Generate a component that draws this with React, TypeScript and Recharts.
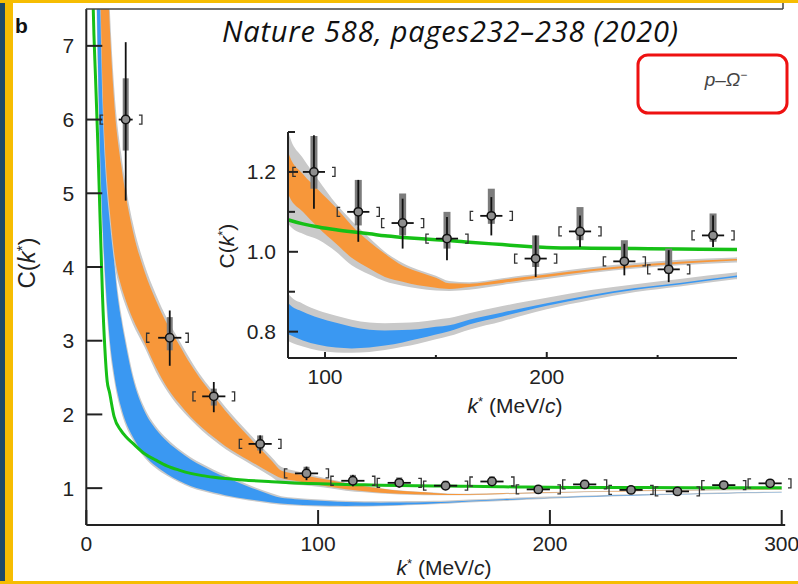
import React from 'react';
import { Area, ComposedChart, ErrorBar, Line, ReferenceLine, Scatter, XAxis, YAxis } from 'recharts';

const FONT = "'Liberation Sans', Arial, Helvetica, sans-serif";
const AXIS = '#222';

// model curves
const K = [2, 3, 4, 5, 6, 7, 8, 9, 10, 12, 15, 17, 20, 25, 30, 35, 40, 45, 50, 55, 60, 70, 80, 84, 90, 97, 105, 112, 120, 127, 135, 142, 150, 156, 165, 180, 190, 200, 220, 240, 260, 285, 300];
const greenC = [9.5, 7.5, 6.55, 5.65, 4.6, 3.6, 2.9, 2.45, 2.3, 1.97, 1.78, 1.7, 1.61, 1.47, 1.38, 1.3, 1.245, 1.2, 1.17, 1.148, 1.13, 1.105, 1.086, 1.079, 1.07, 1.062, 1.055, 1.05, 1.045, 1.04, 1.036, 1.033, 1.03, 1.028, 1.024, 1.018, 1.014, 1.011, 1.009, 1.008, 1.007, 1.006, 1.006];
const blueLo = [15, 11, 8.6, 6.8, 5.5, 4.6, 3.95, 3.45, 3.05, 2.55, 2.1, 1.9, 1.7, 1.45, 1.3, 1.19, 1.1, 1.03, 0.98, 0.94, 0.905, 0.85, 0.805, 0.792, 0.778, 0.767, 0.76, 0.758, 0.76, 0.765, 0.773, 0.782, 0.793, 0.801, 0.818, 0.838, 0.852, 0.865, 0.887, 0.905, 0.918, 0.936, 0.945];
const blueHi = [20, 16, 12, 9.8, 8.6, 7.7, 6.7, 5.9, 5.2, 4.1, 3.3, 2.95, 2.5, 2.05, 1.8, 1.63, 1.5, 1.39, 1.3, 1.22, 1.15, 1.02, 0.905, 0.868, 0.85, 0.835, 0.822, 0.812, 0.805, 0.803, 0.804, 0.806, 0.812, 0.816, 0.83, 0.848, 0.86, 0.871, 0.892, 0.909, 0.922, 0.94, 0.949];
const blueGrayLo = [14.5, 10.6, 8.3, 6.55, 5.3, 4.43, 3.8, 3.32, 2.94, 2.47, 2.04, 1.85, 1.66, 1.42, 1.27, 1.165, 1.08, 1.01, 0.96, 0.922, 0.888, 0.834, 0.788, 0.775, 0.763, 0.753, 0.748, 0.747, 0.749, 0.754, 0.762, 0.77, 0.781, 0.789, 0.805, 0.826, 0.842, 0.856, 0.879, 0.899, 0.913, 0.931, 0.94];
const blueGrayHi = [20.5, 16.5, 12.5, 10.2, 8.95, 8.0, 6.95, 6.1, 5.38, 4.22, 3.38, 3.02, 2.56, 2.1, 1.84, 1.665, 1.53, 1.42, 1.33, 1.25, 1.18, 1.045, 0.93, 0.891, 0.87, 0.853, 0.84, 0.83, 0.823, 0.821, 0.822, 0.824, 0.83, 0.834, 0.846, 0.864, 0.875, 0.885, 0.904, 0.919, 0.932, 0.948, 0.956];
const orangeLo = [20, 16, 12.5, 9.3, 7.85, 6.45, 5.65, 5.15, 4.8, 4.2, 3.75, 3.55, 3.3, 2.98, 2.64, 2.36, 2.15, 1.97, 1.82, 1.69, 1.57, 1.38, 1.2, 1.137, 1.1, 1.06, 1.02, 0.985, 0.958, 0.937, 0.925, 0.916, 0.91, 0.907, 0.912, 0.922, 0.93, 0.937, 0.951, 0.962, 0.97, 0.978, 0.981];
const orangeHi = [25, 22, 17, 13, 11.2, 9.8, 8.9, 8.1, 7.35, 6.25, 5.4, 4.98, 4.5, 3.95, 3.55, 3.22, 2.95, 2.68, 2.45, 2.25, 2.05, 1.7, 1.37, 1.24, 1.195, 1.155, 1.11, 1.066, 1.025, 0.995, 0.965, 0.95, 0.935, 0.921, 0.92, 0.93, 0.937, 0.943, 0.956, 0.967, 0.975, 0.982, 0.985];
const orangeGrayLo = [19.5, 15.5, 12, 8.95, 7.55, 6.2, 5.45, 4.98, 4.65, 4.08, 3.66, 3.47, 3.23, 2.92, 2.58, 2.31, 2.1, 1.93, 1.78, 1.65, 1.53, 1.34, 1.15, 1.066, 1.045, 1.03, 1.0, 0.966, 0.943, 0.926, 0.915, 0.908, 0.903, 0.902, 0.905, 0.917, 0.925, 0.932, 0.947, 0.958, 0.966, 0.973, 0.976];
const orangeGrayHi = [25.5, 22.5, 17.6, 13.5, 11.7, 10.2, 9.25, 8.4, 7.6, 6.45, 5.55, 5.11, 4.61, 4.04, 3.63, 3.29, 3.01, 2.74, 2.5, 2.3, 2.1, 1.75, 1.42, 1.29, 1.235, 1.18, 1.12, 1.078, 1.035, 1.0, 0.972, 0.955, 0.94, 0.927, 0.924, 0.934, 0.941, 0.947, 0.961, 0.972, 0.98, 0.986, 0.989];

// measured correlation points
const pointK = [17, 36, 55, 75, 95, 115, 135, 155, 175, 195, 215, 235, 255, 275, 295];
const pointC = [6.0, 3.04, 2.245, 1.6, 1.2, 1.1, 1.072, 1.033, 1.09, 0.983, 1.051, 0.976, 0.956, 1.041, 1.065];
const statLo = [4.9, 2.66, 2.03, 1.47, 1.108, 1.025, 1.008, 0.979, 1.041, 0.937, 1.012, 0.941, 0.924, 1.012, 1.035];
const statHi = [7.05, 3.41, 2.44, 1.715, 1.292, 1.18, 1.133, 1.087, 1.137, 1.041, 1.091, 1.02, 1.004, 1.091, 1.095];
const systLo = [5.58, 2.87, 2.12, 1.51, 1.158, 1.066, 1.041, 1.008, 1.07, 0.962, 1.029, 0.966, 0.945, 1.025, 1.045];
const systHi = [6.56, 3.32, 2.35, 1.715, 1.29, 1.18, 1.146, 1.1, 1.158, 1.041, 1.112, 1.029, 1.008, 1.096, 1.085];
const binHalf = [3, 5, 5, 5, 5, 5, 5, 5, 5, 5, 5, 5, 5, 5, 5];
const bracketLo = [6, 26, 46, 66, 85.5, 105.5, 125.5, 145.5, 165.5, 185.5, 205.5, 225.5, 245.5, 265.5, 285.5];
const bracketHi = [24, 44, 64, 84, 104.5, 124.5, 144.5, 164.5, 184.5, 204.5, 224.5, 244.5, 264.5, 284.5, 304];

const mainXTicks = [0, 100, 200, 300];
const mainYTicks = [1, 2, 3, 4, 5, 6, 7];
const insetXTicks = [100, 150, 200, 250];
const insetXLabels = [100, 200];
const insetYTicks = [0.8, 0.9, 1.0, 1.1, 1.2, 1.3];
const insetYLabels = [0.8, 1.0, 1.2];

const curveRows = K.map((k, i) => ({
  k,
  green: greenC[i],
  blue: [blueLo[i], blueHi[i]],
  blueGray: [blueGrayLo[i], blueGrayHi[i]],
  orange: [orangeLo[i], orangeHi[i]],
  orangeGray: [orangeGrayLo[i], orangeGrayHi[i]]
}));

const pointRows = pointK.map((k, i) => ({
  k,
  c: pointC[i],
  stat: [pointC[i] - statLo[i], statHi[i] - pointC[i]],
  syst: [pointC[i] - systLo[i], systHi[i] - pointC[i]],
  kerr: binHalf[i]
}));
const leftRows = pointK.map((k, i) => ({ k: bracketLo[i], c: pointC[i], mid: k }));
const rightRows = pointK.map((k, i) => ({ k: bracketHi[i], c: pointC[i], mid: k }));

const INSET_X: [number, number] = [83.3, 285.8];
const inInset = (r: { k: number; mid?: number }) => {
  const m = r.mid ?? r.k;
  return m > INSET_X[0] && m < INSET_X[1];
};

function Marker({ cx, cy }: any) {
  return <circle cx={cx} cy={cy} r={4.2} fill="#8e8e8e" stroke="#111" strokeWidth={1.5} />;
}
function BracketL({ cx, cy }: any) {
  return <path d={`M${cx + 3},${cy - 4.5} H${cx} V${cy + 4.5} H${cx + 3}`} fill="none" stroke="#333" strokeWidth={1.3} />;
}
function BracketR({ cx, cy }: any) {
  return <path d={`M${cx - 3},${cy - 4.5} H${cx} V${cy + 4.5} H${cx - 3}`} fill="none" stroke="#333" strokeWidth={1.3} />;
}

function makeXTick(len: (v: number) => number, labels: number[] | null) {
  return ({ x, y, payload }: any) => (
    <g>
      <line x1={x} x2={x} y1={y} y2={y - len(payload.value)} stroke={AXIS} strokeWidth={2} />
      {(labels === null || labels.includes(payload.value)) && (
        <text x={x} y={y + 26} textAnchor="middle" fontSize={21} fill="#222" fontFamily={FONT}>
          {payload.value}
        </text>
      )}
    </g>
  );
}
function makeYTick(len: (v: number) => number, labels: number[] | null, fmt: (v: number) => string) {
  return ({ x, y, payload }: any) => (
    <g>
      <line x1={x} x2={x + len(payload.value)} y1={y} y2={y} stroke={AXIS} strokeWidth={2} />
      {(labels === null || labels.some((l) => Math.abs(l - payload.value) < 1e-6)) && (
        <text x={x - 12} y={y + 7.5} textAnchor="end" fontSize={21} fill="#222" fontFamily={FONT}>
          {fmt(payload.value)}
        </text>
      )}
    </g>
  );
}

function Series({ big }: { big: boolean }) {
  const pts = big ? pointRows : pointRows.filter(inInset);
  const lb = big ? leftRows : leftRows.filter(inInset);
  const rb = big ? rightRows : rightRows.filter(inInset);
  return [
    <Area key="bg" type="monotone" dataKey="blueGray" fill="#c9c9c9" fillOpacity={1} stroke="none" isAnimationActive={false} />,
    <Area key="b" type="monotone" dataKey="blue" fill="#3a98f2" fillOpacity={1} stroke="none" isAnimationActive={false} />,
    <Area key="og" type="monotone" dataKey="orangeGray" fill="#c9c9c9" fillOpacity={1} stroke="none" isAnimationActive={false} />,
    <Area key="o" type="monotone" dataKey="orange" fill="#f7973a" fillOpacity={1} stroke="none" isAnimationActive={false} />,
    <Line key="g" type="monotone" dataKey="green" stroke="#16c016" strokeWidth={big ? 3 : 3.5} dot={false} isAnimationActive={false} />,
    <Scatter key="lb" data={lb} dataKey="c" shape={(p: any) => <BracketL {...p} />} isAnimationActive={false} />,
    <Scatter key="rb" data={rb} dataKey="c" shape={(p: any) => <BracketR {...p} />} isAnimationActive={false} />,
    <Scatter key="pts" data={pts} dataKey="c" shape={(p: any) => <Marker {...p} />} isAnimationActive={false}>
      <ErrorBar dataKey="syst" direction="y" width={0} stroke="#7c7c7c" strokeWidth={big ? 6 : 7} isAnimationActive={false} />
      <ErrorBar dataKey="stat" direction="y" width={0} stroke="#111" strokeWidth={1.8} isAnimationActive={false} />
      <ErrorBar dataKey="kerr" direction="x" width={0} stroke="#111" strokeWidth={1.8} isAnimationActive={false} />
    </Scatter>
  ];
}

function KLabel({ x, y }: { x: number; y: number }) {
  return (
    <text x={x} y={y} textAnchor="middle" fontSize={21} fill="#222" fontFamily={FONT}>
      <tspan fontStyle="italic">k</tspan>
      <tspan dy={-7} fontSize={13}>*</tspan>
      <tspan dy={7}> (MeV/</tspan>
      <tspan fontStyle="italic">c</tspan>
      <tspan>)</tspan>
    </text>
  );
}
function CLabel({ x, y, size }: { x: number; y: number; size: number }) {
  return (
    <text transform={`translate(${x},${y}) rotate(-90)`} y={size * 0.36} textAnchor="middle" fontSize={size} fill="#222" fontFamily={FONT}>
      C(<tspan fontStyle="italic">k</tspan>
      <tspan dy={-size * 0.33} fontSize={size * 0.62}>*</tspan>
      <tspan dy={size * 0.33}>)</tspan>
    </text>
  );
}

export default function App() {
  return (
    <div style={{ position: 'absolute', left: 0, top: 0, width: 798, height: 584, background: '#fff', overflow: 'hidden' }}>
      <div style={{ position: 'absolute', left: 0, top: 0 }}>
        <ComposedChart width={798} height={584} data={curveRows} margin={{ top: 9, right: 4.7, bottom: 0, left: 0 }}>
          <XAxis
            dataKey="k"
            type="number"
            domain={[0, 305]}
            allowDataOverflow
            ticks={mainXTicks}
            axisLine={false}
            tickLine={false}
            tickSize={0}
            tickMargin={0}
            height={59}
            tick={makeXTick(() => 15, null)}
          />
          <YAxis
            type="number"
            domain={[0.5, 7.5]}
            allowDataOverflow
            ticks={mainYTicks}
            axisLine={{ stroke: AXIS, strokeWidth: 2 }}
            tickLine={false}
            tickSize={0}
            tickMargin={0}
            width={86.3}
            tick={makeYTick(() => 16, null, (v) => String(v))}
          />
          {Series({ big: true })}
          <ReferenceLine segment={[{ x: 0, y: 0.5 }, { x: 301.5, y: 0.5 }]} stroke={AXIS} strokeWidth={2} />
        </ComposedChart>
      </div>

      <div style={{ position: 'absolute', left: 200, top: 100 }}>
        <ComposedChart width={560} height={330} data={curveRows} margin={{ top: 32, right: 23, bottom: 0, left: 0 }}>
          <XAxis
            dataKey="k"
            type="number"
            domain={INSET_X}
            allowDataOverflow
            ticks={insetXTicks}
            axisLine={{ stroke: AXIS, strokeWidth: 2 }}
            tickLine={false}
            tickSize={0}
            tickMargin={0}
            height={72}
            tick={makeXTick((v) => (insetXLabels.includes(v) ? 6 : 3), insetXLabels)}
          />
          <YAxis
            type="number"
            domain={[0.734, 1.3]}
            allowDataOverflow
            ticks={insetYTicks}
            axisLine={{ stroke: AXIS, strokeWidth: 2 }}
            tickLine={false}
            tickSize={0}
            tickMargin={0}
            width={88}
            tick={makeYTick((v) => (insetYLabels.some((l) => Math.abs(l - v) < 1e-6) ? 10 : 7), insetYLabels, (v) => v.toFixed(1))}
          />
          {Series({ big: false })}
        </ComposedChart>
      </div>

      <svg width={798} height={584} style={{ position: 'absolute', left: 0, top: 0, pointerEvents: 'none' }}>
        <rect x={0} y={0} width={5} height={584} fill="#1d4a68" />
        <rect x={5} y={0} width={8} height={584} fill="#f6bd02" />
        <rect x={0} y={0} width={798} height={3} fill="#f6bd02" />
        <rect x={0} y={581} width={798} height={3} fill="#f6bd02" />
        <line x1={86} x2={783} y1={9} y2={9} stroke="#444" strokeWidth={1.5} />
        <line x1={783} x2={783} y1={3} y2={9} stroke="#444" strokeWidth={1.5} />
        <text x={15} y={33} fontSize={21} fontWeight="bold" fill="#111" fontFamily={FONT}>b</text>
        <text x={450} y={42} textAnchor="middle" fontSize={29} fontStyle="italic" fill="#111" fontFamily="'Open Sans', 'Noto Sans', sans-serif" textLength={456} lengthAdjust="spacing">
          Nature 588, pages232–238 (2020)
        </text>
        <rect x={638} y={55} width={149} height={58} rx={10} fill="none" stroke="#ee1111" strokeWidth={3} />
        <text x={726} y={86} textAnchor="middle" fontSize={19} fill="#444" fontFamily={FONT}>
          <tspan fontStyle="italic">p</tspan>–<tspan fontStyle="italic">Ω</tspan>
          <tspan dy={-7} fontSize={12}>−</tspan>
        </text>
        <KLabel x={444} y={575} />
        <KLabel x={515} y={413} />
        <CLabel x={26} y={263} size={24} />
        <CLabel x={226} y={246} size={21} />
      </svg>
    </div>
  );
}
